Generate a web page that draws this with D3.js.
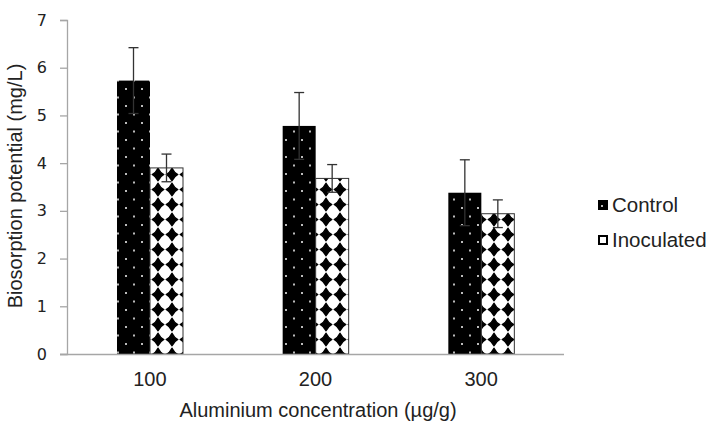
<!DOCTYPE html>
<html><head><meta charset="utf-8">
<script src="https://cdn.jsdelivr.net/npm/d3@7"></script>
<style>body{margin:0;background:#fff}svg{display:block}text{font-family:"Liberation Sans",Arial,sans-serif;fill:#222}</style>
</head><body>
<script>
const categories = ["100","200","300"];
const seriesNames = ["Control","Inoculated"];
const controlValues = [5.73, 4.78, 3.38];
const controlErrors = [0.69, 0.70, 0.69];
const inoculatedValues = [3.90, 3.68, 2.94];
const inoculatedErrors = [0.29, 0.29, 0.29];
const yTicks = [0,1,2,3,4,5,6,7];

const W=710,H=421;
const svg=d3.select("body").append("svg").attr("width",W).attr("height",H);
const defs=svg.append("defs");
// control pattern: black with grey dots
const p1=defs.append("pattern").attr("id","pc").attr("patternUnits","userSpaceOnUse")
 .attr("width",16).attr("height",17).attr("x",117).attr("y",0);
p1.append("rect").attr("width",16).attr("height",17).attr("fill","#000");
p1.append("rect").attr("x",8).attr("y",3).attr("width",2).attr("height",2).attr("fill","#bbb");
p1.append("rect").attr("x",0).attr("y",11.5).attr("width",2).attr("height",2).attr("fill","#bbb");
// inoculated pattern: white with black rounded diamonds
const p2=defs.append("pattern").attr("id","pi").attr("patternUnits","userSpaceOnUse")
 .attr("width",14).attr("height",15).attr("x",151).attr("y",2);
p2.append("rect").attr("width",14).attr("height",15).attr("fill","#fff");
p2.append("path").attr("d","M7,1.2 Q9,5.5 12.8,7.5 Q9,9.5 7,13.8 Q5,9.5 1.2,7.5 Q5,5.5 7,1.2Z").attr("fill","#000")
 .attr("stroke","#000").attr("stroke-width",1.4).attr("stroke-linejoin","round");

const x0=d3.scaleBand().domain(categories).range([67,564]);
const x1=d3.scaleBand().domain(seriesNames).range([50,116]);
const y=d3.scaleLinear().domain([0,7]).range([354,20]);

const data=categories.map((c,i)=>({cat:c,vals:[
 {s:"Control",v:controlValues[i],e:controlErrors[i]},
 {s:"Inoculated",v:inoculatedValues[i],e:inoculatedErrors[i]}]}));

// y axis
const yA=svg.append("g").attr("transform","translate(67,0)")
 .call(d3.axisLeft(y).tickValues(yTicks).tickSize(7).tickPadding(13).tickFormat(d3.format("d")));
yA.select(".domain").attr("stroke","#a6a6a6").attr("stroke-width",1.3);
yA.selectAll(".tick line").attr("stroke","#a6a6a6").attr("stroke-width",1.3);
yA.selectAll("text").style("font-family","'DejaVu Sans',Verdana,sans-serif").attr("font-size",16).attr("fill","#222");

const g=svg.append("g");
data.forEach(d=>{
 const gx=x0(d.cat);
 d.vals.forEach(b=>{
  const bx=gx+x1(b.s), bw=x1.bandwidth();
  g.append("rect").attr("x",bx).attr("y",y(b.v)).attr("width",bw).attr("height",y(0)-y(b.v))
   .attr("fill",b.s==="Control"?"url(#pc)":"url(#pi)")
   .attr("stroke",b.s==="Control"?"none":"#333").attr("stroke-width",1);
 });
});
// x axis
svg.append("line").attr("x1",60).attr("x2",564).attr("y1",y(0)+0.5).attr("y2",y(0)+0.5).attr("stroke","#a6a6a6").attr("stroke-width",1.5);
svg.append("g").selectAll("text").data(categories).join("text")
 .attr("x",d=>x0(d)+x0.bandwidth()/2).attr("y",386).attr("text-anchor","middle").attr("font-size",20).text(d=>d);

// error bars
data.forEach(d=>{
 const gx=x0(d.cat);
 d.vals.forEach(b=>{
  const cx=gx+x1(b.s)+x1.bandwidth()/2;
  const eg=svg.append("g").attr("stroke","#333").attr("stroke-width",1.3);
  eg.append("line").attr("x1",cx).attr("x2",cx).attr("y1",y(b.v+b.e)).attr("y2",y(b.v-b.e));
  [b.v+b.e,b.v-b.e].forEach(v=>eg.append("line").attr("x1",cx-5).attr("x2",cx+5).attr("y1",y(v)).attr("y2",y(v)));
 });
});

// titles
svg.append("text").attr("x",318).attr("y",417).attr("text-anchor","middle").attr("font-size",20).text("Aluminium concentration (µg/g)");
svg.append("text").attr("transform","translate(22,186) rotate(-90)").attr("text-anchor","middle")
 .attr("font-size",20).text("Biosorption potential (mg/L)");

// legend
const lg=svg.append("g");
seriesNames.forEach((s,i)=>{
 const ly=200+i*35;
 lg.append("rect").attr("x",s==="Control"?598:599).attr("y",s==="Control"?ly:ly+1).attr("width",s==="Control"?10:8).attr("height",s==="Control"?10:8)
  .attr("fill",s==="Control"?"#000":"#fff").attr("stroke","#000").attr("stroke-width",s==="Control"?0:2);
 if(s==="Control") lg.append("rect").attr("x",601).attr("y",ly+5).attr("width",2).attr("height",2).attr("fill","#bbb");
 lg.append("text").attr("x",612).attr("y",ly+12).attr("font-size",20.5).text(s);
});
</script>
</body></html>
